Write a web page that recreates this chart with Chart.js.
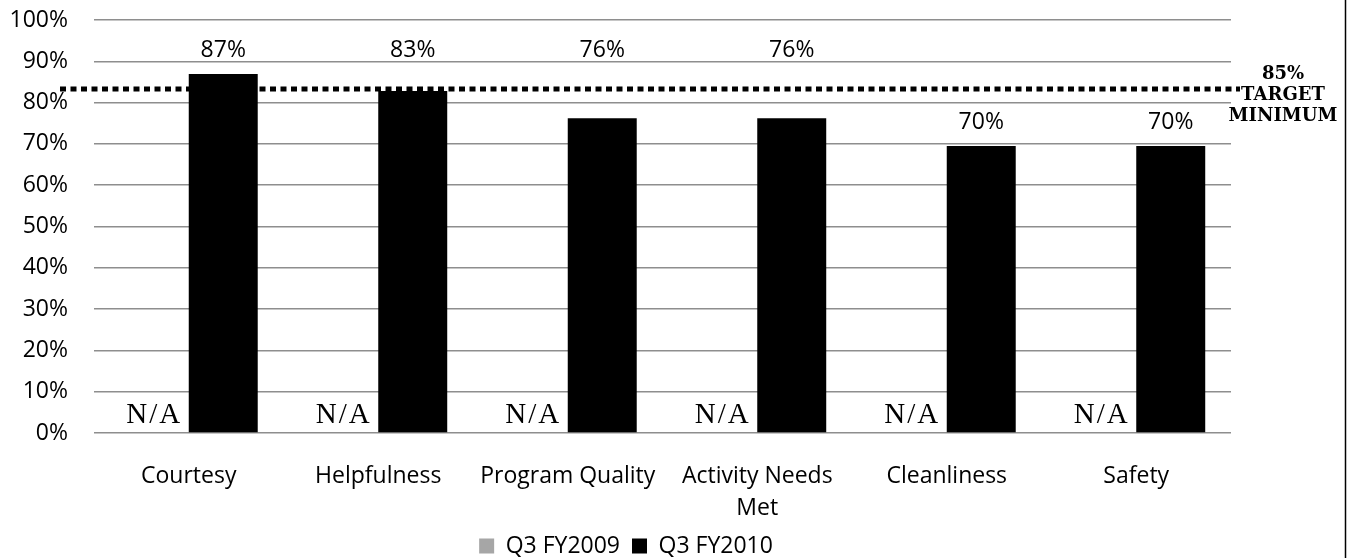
<!DOCTYPE html>
<html>
<head>
<meta charset="utf-8">
<script src="https://cdn.jsdelivr.net/npm/chart.js@4/dist/chart.umd.min.js"></script>
<style>
    html, body { margin: 0; padding: 0; background: #fff; }
    canvas { display: block; }
</style>
</head>
<body>
<canvas id="surveyChart" width="1354" height="558"></canvas>
<script>
// categories and series
const categories = ['Courtesy', 'Helpfulness', 'Program Quality', ['Activity Needs', 'Met'], 'Cleanliness', 'Safety'];
const fy2009 = [null, null, null, null, null, null];
const fy2010 = [86.9, 82.8, 76.2, 76.2, 69.5, 69.5];
const seriesNames = ['Q3 FY2009', 'Q3 FY2010'];
const yTicks = [0, 10, 20, 30, 40, 50, 60, 70, 80, 90, 100];
const targetLevel = 83.3;
const targetText = ['85%', 'TARGET', 'MINIMUM'];
const missingText = 'N/A';

// dotted target line + its caption
const targetPlugin = {
    id: 'targetLine',
    beforeDatasetsDraw(chart) {
        const { ctx, chartArea, scales } = chart;
        const y = scales.y.getPixelForValue(targetLevel);
        ctx.save();
        ctx.strokeStyle = '#000';
        ctx.lineWidth = 5;
        ctx.setLineDash([6, 4.5]);
        ctx.beginPath();
        ctx.moveTo(chartArea.left - 34, y);
        ctx.lineTo(chartArea.right + 9, y);
        ctx.stroke();
        ctx.restore();
    },
    afterDraw(chart) {
        const { ctx, chartArea, scales } = chart;
        const y = scales.y.getPixelForValue(targetLevel);
        ctx.save();
        ctx.fillStyle = '#000';
        ctx.font = "bold 18px 'DejaVu Serif', serif";
        ctx.textAlign = 'center';
        ctx.textBaseline = 'middle';
        targetText.forEach((t, i) => {
            ctx.fillText(t, chartArea.right + 52, y - 15 + i * 21);
        });
        // frame edge on the right
        ctx.strokeStyle = '#000';
        ctx.lineWidth = 1.5;
        ctx.beginPath();
        ctx.moveTo(1345.5, 0);
        ctx.lineTo(1345.5, chart.height);
        ctx.stroke();
        ctx.restore();
    }
};

// value labels on top + N/A for missing bars
const labelPlugin = {
    id: 'barLabels',
    afterDatasetsDraw(chart) {
        const { ctx, scales } = chart;
        const yScale = scales.y;
        const targetY = yScale.getPixelForValue(targetLevel);
        ctx.save();
        ctx.fillStyle = '#000';
        ctx.textAlign = 'center';
        ctx.textBaseline = 'middle';

        ctx.font = "23px 'Open Sans', sans-serif";
        chart.getDatasetMeta(1).data.forEach((bar, i) => {
            const v = fy2010[i];
            let ly = yScale.getPixelForValue(v) - 24;
            // labels close under the target line get lifted above it
            if (v < targetLevel && targetLevel - v < 12) ly = targetY - 39;
            ctx.fillText(Math.round(v) + '%', bar.x, ly);
        });

        ctx.font = "29px 'Liberation Serif', serif";
        ctx.letterSpacing = '2px';
        ctx.textBaseline = 'alphabetic';
        const meta0 = chart.getDatasetMeta(0);
        const meta1 = chart.getDatasetMeta(1);
        fy2009.forEach((v, i) => {
            if (v !== null) return;
            const b1 = meta1.data[i];
            const x = (meta0.data[i] && !isNaN(meta0.data[i].x)) ? meta0.data[i].x : b1.x - b1.width;
            ctx.fillText(missingText, x, yScale.getPixelForValue(0) - 10);
        });
        ctx.restore();
    }
};

Chart.defaults.font.family = "'Open Sans', sans-serif";
Chart.defaults.font.size = 23;
Chart.defaults.color = '#000';

new Chart(document.getElementById('surveyChart'), {
    type: 'bar',
    data: {
        labels: categories,
        datasets: [
            { label: seriesNames[0], data: fy2009, backgroundColor: '#a6a6a6' },
            { label: seriesNames[1], data: fy2010, backgroundColor: '#000' }
        ]
    },
    options: {
        responsive: false,
        animation: false,
        layout: { padding: { left: 0, right: 102, top: 20, bottom: -9.5 } },
        datasets: { bar: { barPercentage: 1, categoryPercentage: 0.728 } },
        scales: {
            x: {
                afterFit: (scale) => { scale.height = 89.5; },
                grid: { display: false },
                border: { display: false },
                ticks: { padding: 19, maxRotation: 0, autoSkip: false, font: { lineHeight: 1.4 } }
            },
            y: {
                min: 0,
                max: 100,
                afterFit: (scale) => { scale.width = 94; },
                afterBuildTicks: (scale) => { scale.ticks = yTicks.map(v => ({ value: v })); },
                border: { display: false },
                grid: { color: '#8e8e8e', lineWidth: 1.5, drawTicks: true, tickLength: 26, tickColor: 'rgba(0,0,0,0)' },
                ticks: { padding: 0, callback: (v) => v + '%' }
            },
            yRight: {
                position: 'right',
                afterFit: (scale) => { scale.width = 21; },
                grid: { display: false },
                border: { display: false },
                ticks: { display: false }
            }
        },
        plugins: {
            tooltip: { enabled: false },
            legend: {
                position: 'bottom',
                labels: { boxWidth: 15, boxHeight: 15, padding: 12, color: '#000' }
            }
        }
    },
    plugins: [targetPlugin, labelPlugin]
});
</script>
</body>
</html>
